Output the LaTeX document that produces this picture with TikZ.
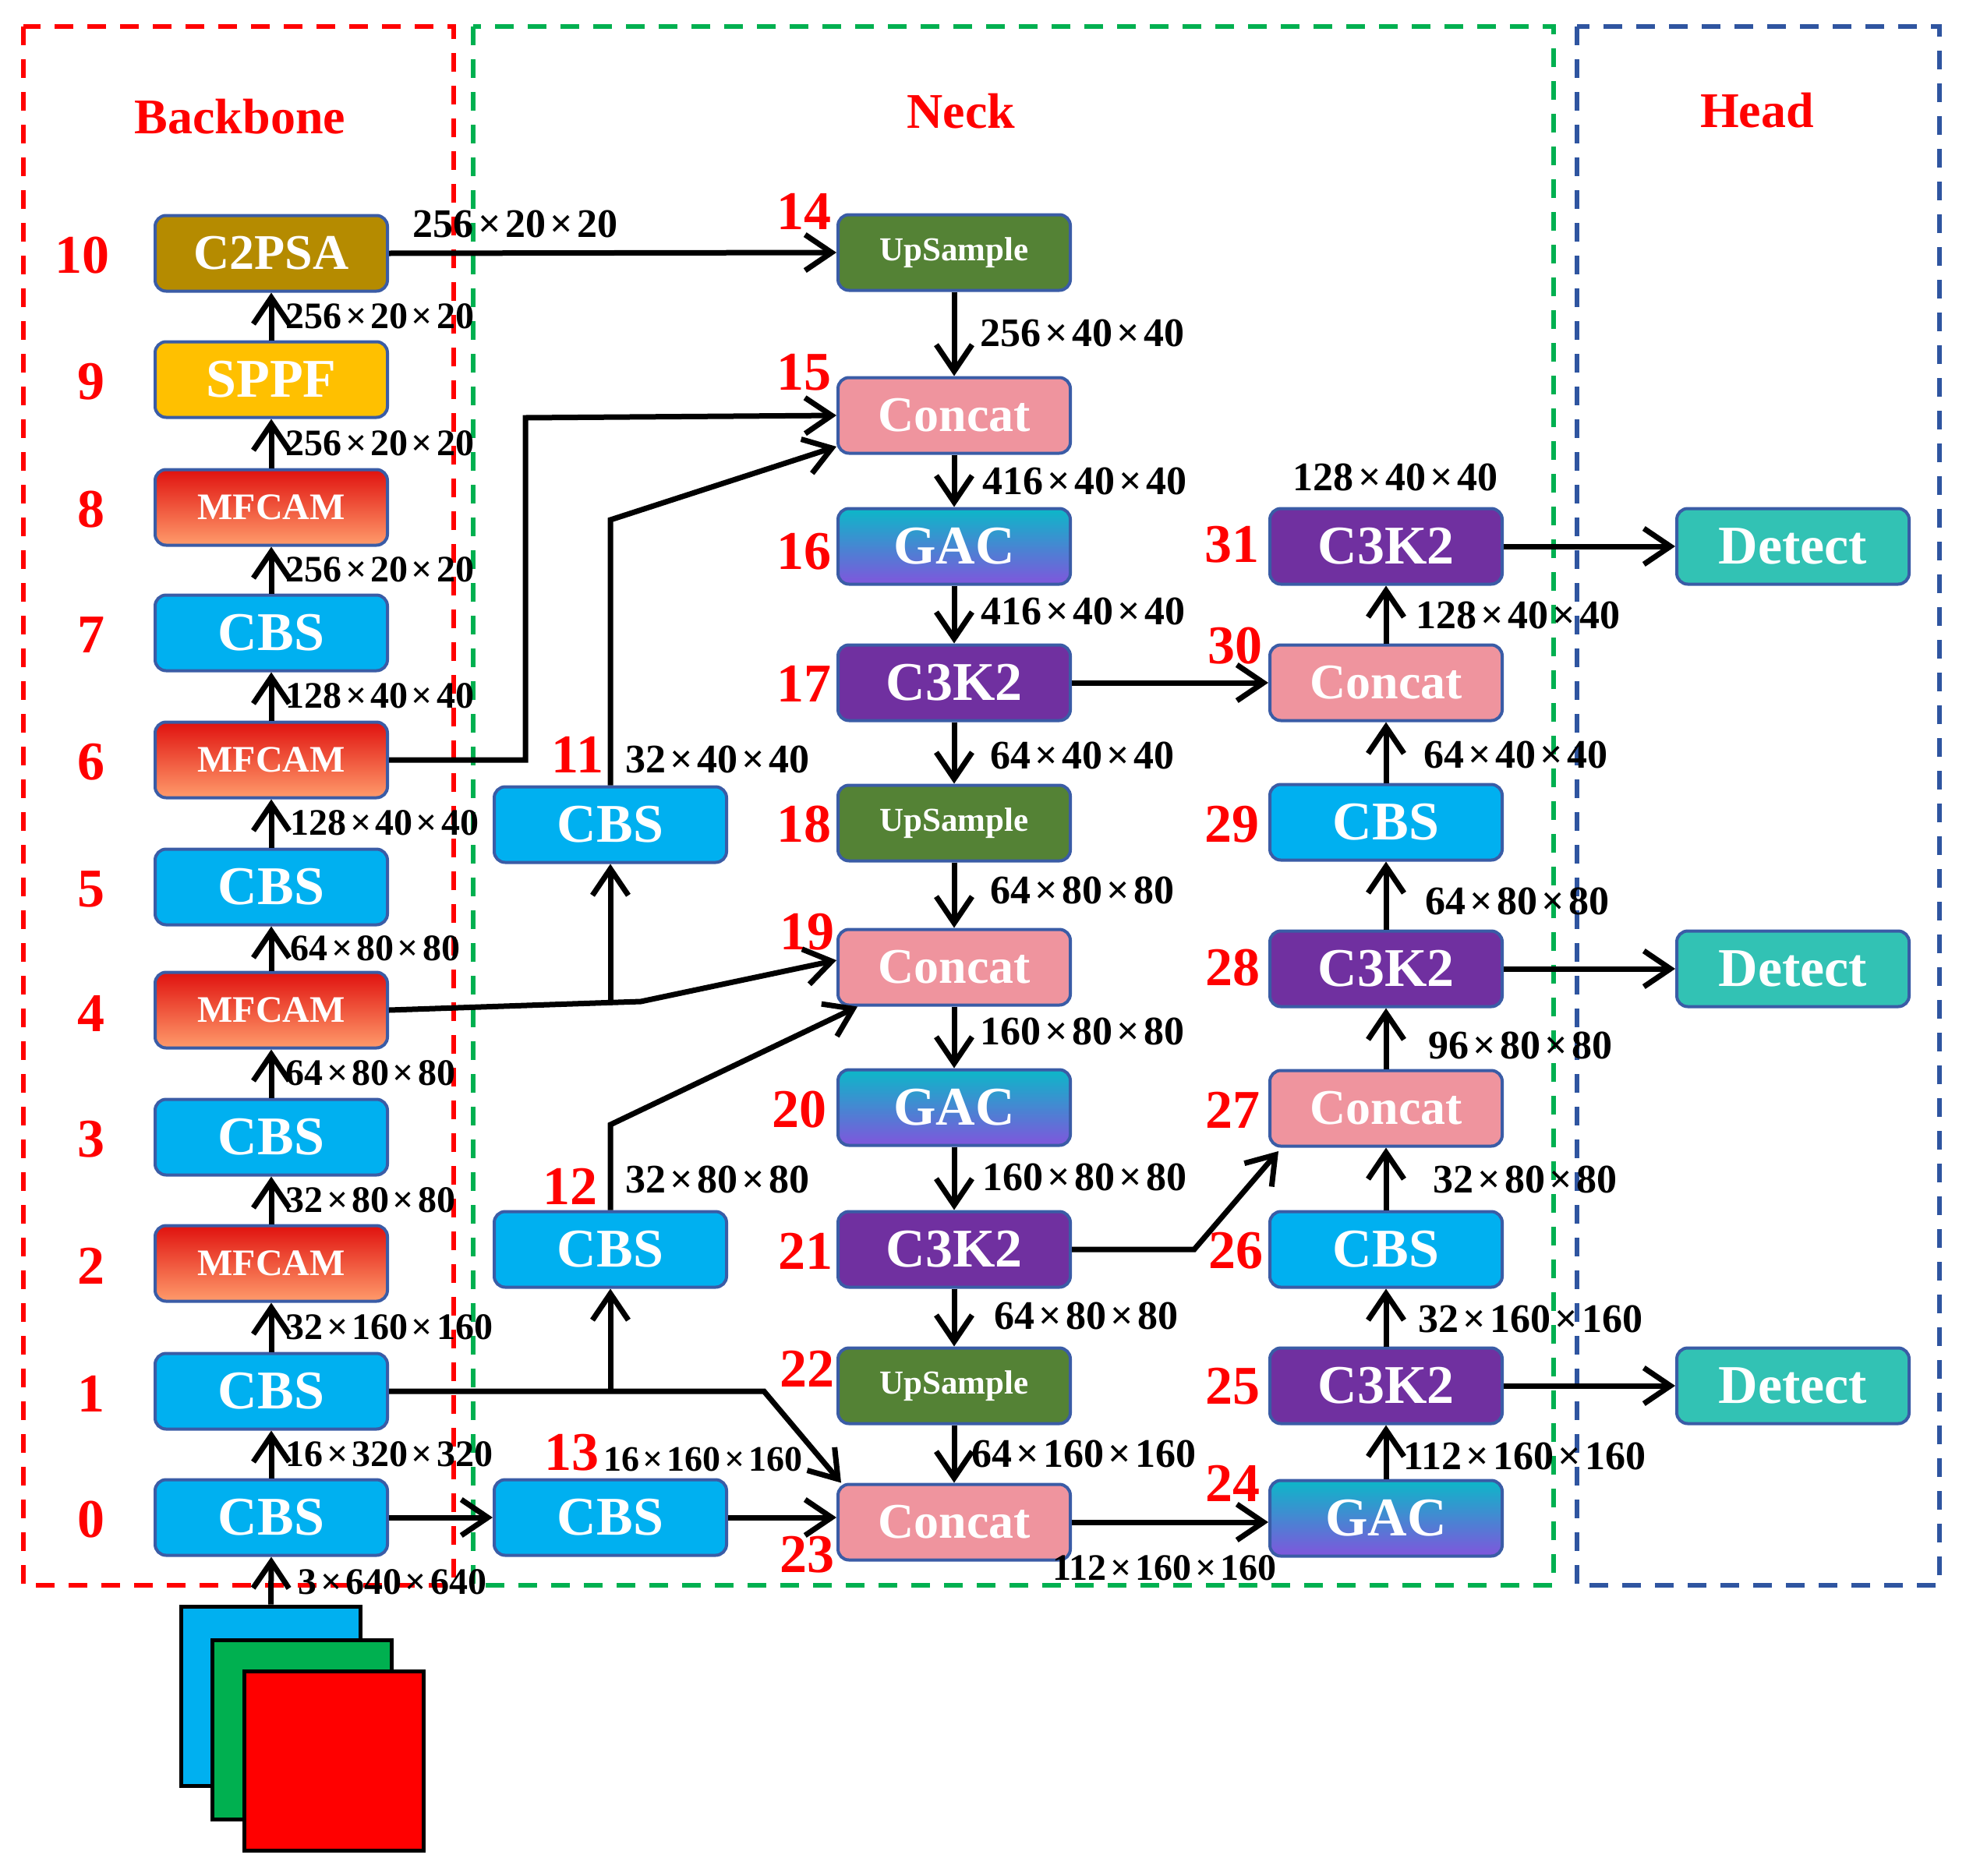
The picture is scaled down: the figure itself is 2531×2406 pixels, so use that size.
\documentclass[tikz,border=0pt]{standalone}
\usepackage{fontspec}
\setmainfont{Liberation Serif}
\usetikzlibrary{arrows.meta}
\definecolor{cbsc}{HTML}{00B0F0}
\definecolor{sppfc}{HTML}{FFC000}
\definecolor{c2psac}{HTML}{B58B00}
\definecolor{upsc}{HTML}{548235}
\definecolor{concatc}{HTML}{EF949E}
\definecolor{c3kc}{HTML}{7030A0}
\definecolor{detectc}{HTML}{32C2B4}
\definecolor{boxblue}{HTML}{3A5CA6}
\definecolor{mftop}{HTML}{E0120F}
\definecolor{mfbot}{HTML}{FF9B6B}
\definecolor{gactop}{HTML}{0CB8C8}
\definecolor{gacbot}{HTML}{8055DC}
\definecolor{regred}{HTML}{FF0000}
\definecolor{reggreen}{HTML}{00B050}
\definecolor{regblue}{HTML}{2F55A0}
\definecolor{sqgreen}{HTML}{00B050}
\newcommand\mul{\kern0.1em×\kern0.1em}
\begin{document}
\begin{tikzpicture}[x=1pt,y=-1pt,
  blk/.style={draw=boxblue, line width=4pt, rounded corners=14pt, minimum width=298pt, minimum height=97pt, inner sep=0pt, text=white, font=\fontsize{70}{70}\selectfont\bfseries},
  cbs/.style={blk, fill=cbsc},
  sppf/.style={blk, fill=sppfc},
  c2psa/.style={blk, fill=c2psac, font=\fontsize{64}{64}\selectfont\bfseries},
  mfcam/.style={blk, top color=mftop, bottom color=mfbot, font=\fontsize{48}{48}\selectfont\bfseries},
  gac/.style={blk, top color=gactop, bottom color=gacbot},
  ups/.style={blk, fill=upsc, font=\fontsize{43}{43}\selectfont\bfseries},
  concat/.style={blk, fill=concatc, font=\fontsize{64}{64}\selectfont\bfseries},
  c3k/.style={blk, fill=c3kc},
  detect/.style={blk, fill=detectc},
  num/.style={text=red, inner sep=0pt, font=\fontsize{70}{70}\selectfont\bfseries},
  ttl/.style={text=red, inner sep=0pt, font=\fontsize{64}{64}\selectfont\bfseries},
  dimlab/.style={inner sep=0pt, anchor=west, font=\fontsize{52}{52}\selectfont\bfseries},
  bdim/.style={dimlab, font=\fontsize{48}{48}\selectfont\bfseries},
  conn/.style={line width=7pt, -{Straight Barb[length=34pt,width=46pt,line width=7pt]}},
  region/.style={line width=6pt, dash pattern=on 24pt off 18pt},
  sq/.style={draw=black, line width=5pt, minimum width=230pt, minimum height=230pt, inner sep=0pt}
]
\useasboundingbox (0,0) rectangle (2531,2406);

% regions
\draw[region, regred] (30,34) rectangle (582,2034);
\draw[region, reggreen] (607,34) rectangle (1993,2034);
\draw[region, regblue] (2023,34) rectangle (2488,2034);
\node[ttl] (tb) at (308,150) {Backbone};
\node[ttl] (tn) at (1233,143) {Neck};
\node[ttl] (th) at (2254,142) {Head};

% input image
\node[sq, fill=cbsc] (sqb) at (347.5,2176) {};
\node[sq, fill=sqgreen] (sqg) at (387.5,2219) {};
\node[sq, fill=regred] (sqr) at (428,2259) {};

% backbone
\node[cbs] (b0) at (348,1947) {CBS};
\node[cbs] (b1) at (348,1785) {CBS};
\node[mfcam] (b2) at (348,1621) {MFCAM};
\node[cbs] (b3) at (348,1459) {CBS};
\node[mfcam] (b4) at (348,1296) {MFCAM};
\node[cbs] (b5) at (348,1138) {CBS};
\node[mfcam] (b6) at (348,975) {MFCAM};
\node[cbs] (b7) at (348,812) {CBS};
\node[mfcam] (b8) at (348,651) {MFCAM};
\node[sppf] (b9) at (348,487) {SPPF};
\node[c2psa] (b10) at (348,325) {C2PSA};

\node[num] (l0) at (117,1950) {0};
\node[num] (l1) at (117,1788) {1};
\node[num] (l2) at (117,1624) {2};
\node[num] (l3) at (117,1462) {3};
\node[num] (l4) at (117,1300) {4};
\node[num] (l5) at (117,1141) {5};
\node[num] (l6) at (117,978) {6};
\node[num] (l7) at (117,815) {7};
\node[num] (l8) at (117,654) {8};
\node[num] (l9) at (117,490) {9};
\node[num] (l10) at (105,328) {10};

% neck left column
\node[cbs] (n11) at (783,1058) {CBS};
\node[cbs] (n12) at (783,1603) {CBS};
\node[cbs] (n13) at (783,1947) {CBS};
\node[num] (l11) at (741,968) {11};
\node[num] (l12) at (731,1522) {12};
\node[num] (l13) at (733,1864) {13};

% neck main column
\node[ups] (n14) at (1224,324) {UpSample};
\node[concat] (n15) at (1224,533) {Concat};
\node[gac] (n16) at (1224,701) {GAC};
\node[c3k] (n17) at (1224,876) {C3K2};
\node[ups] (n18) at (1224,1056) {UpSample};
\node[concat] (n19) at (1224,1241) {Concat};
\node[gac] (n20) at (1224,1421) {GAC};
\node[c3k] (n21) at (1224,1603) {C3K2};
\node[ups] (n22) at (1224,1778) {UpSample};
\node[concat] (n23) at (1224,1953) {Concat};
\node[num] (l14) at (1031,271) {14};
\node[num] (l15) at (1031,478) {15};
\node[num] (l16) at (1031,708) {16};
\node[num] (l17) at (1031,877) {17};
\node[num] (l18) at (1031,1058) {18};
\node[num] (l19) at (1035,1196) {19};
\node[num] (l20) at (1025,1424) {20};
\node[num] (l21) at (1033,1605) {21};
\node[num] (l22) at (1035,1756) {22};
\node[num] (l23) at (1035,1995) {23};

% right column
\node[gac] (r24) at (1778,1948) {GAC};
\node[c3k] (r25) at (1778,1778) {C3K2};
\node[cbs] (r26) at (1778,1603) {CBS};
\node[concat] (r27) at (1778,1422) {Concat};
\node[c3k] (r28) at (1778,1243) {C3K2};
\node[cbs] (r29) at (1778,1055) {CBS};
\node[concat] (r30) at (1778,876) {Concat};
\node[c3k] (r31) at (1778,701) {C3K2};
\node[num] (l24) at (1581,1903) {24};
\node[num] (l25) at (1581,1779) {25};
\node[num] (l26) at (1585,1605) {26};
\node[num] (l27) at (1581,1424) {27};
\node[num] (l28) at (1581,1242) {28};
\node[num] (l29) at (1580,1058) {29};
\node[num] (l30) at (1584,829) {30};
\node[num] (l31) at (1580,699) {31};

% head
\node[detect] (d1) at (2300,701) {Detect};
\node[detect] (d2) at (2300,1243) {Detect};
\node[detect] (d3) at (2300,1778) {Detect};

% backbone connectors
\draw[conn] (sqb.north) -- (b0.south);
\draw[conn] (b0) -- (b1);
\draw[conn] (b1) -- (b2);
\draw[conn] (b2) -- (b3);
\draw[conn] (b3) -- (b4);
\draw[conn] (b4) -- (b5);
\draw[conn] (b5) -- (b6);
\draw[conn] (b6) -- (b7);
\draw[conn] (b7) -- (b8);
\draw[conn] (b8) -- (b9);
\draw[conn] (b9) -- (b10);

\node[bdim] (d01) at (366,1866) {16\mul 320\mul 320};
\node[bdim] (d12) at (366,1703) {32\mul 160\mul 160};
\node[bdim] (d23) at (366,1540) {32\mul 80\mul 80};
\node[bdim] (d34) at (366,1377) {64\mul 80\mul 80};
\node[bdim] (d45) at (372,1217) {64\mul 80\mul 80};
\node[bdim] (d56) at (372,1056) {128\mul 40\mul 40};
\node[bdim] (d67) at (366,893) {128\mul 40\mul 40};
\node[bdim] (d78) at (366,731) {256\mul 20\mul 20};
\node[bdim] (d89) at (366,569) {256\mul 20\mul 20};
\node[bdim] (d910) at (366,406) {256\mul 20\mul 20};
\node[bdim] (din) at (382,2030) {3\mul 640\mul 640};

% backbone to neck
\draw[conn] (b10.east) -- (n14.west);
\node[dimlab, anchor=center] (dtop) at (661,287) {256\mul 20\mul 20};

\draw[conn] (b6.east) -- (674,975) -- (674,536) -- (n15.west);
\draw[conn] (n11.north) -- (783,667) -- ([yshift=-40pt]n15.west);

\coordinate (j4) at (783,1286);
\draw[conn] (b4.east) -- (822,1285) -- ([yshift=9pt]n19.west);
\draw[conn] (j4) -- (n11.south);
\draw[conn] (n12.north) -- (783,1443) -- ([xshift=-124pt]n19.south);

\coordinate (j1) at (783,1785);
\draw[conn] (b1.east) -- (980,1785) -- ([xshift=6pt]n23.north west);
\draw[conn] (j1) -- (n12.south);

\draw[conn] (b0.east) -- (n13.west);
\draw[conn] (n13.east) -- (n13.east -| n23.west);

\node[dimlab] (d11) at (802,974) {32\mul 40\mul 40};
\node[dimlab] (d12b) at (802,1513) {32\mul 80\mul 80};
\node[dimlab, font=\fontsize{46}{46}\selectfont\bfseries] (d13) at (774,1872) {16\mul 160\mul 160};

% neck vertical
\draw[conn] (n14) -- (n15);
\draw[conn] (n15) -- (n16);
\draw[conn] (n16) -- (n17);
\draw[conn] (n17) -- (n18);
\draw[conn] (n18) -- (n19);
\draw[conn] (n19) -- (n20);
\draw[conn] (n20) -- (n21);
\draw[conn] (n21) -- (n22);
\draw[conn] (n22) -- (n23);

\node[dimlab] (e1) at (1257,427) {256\mul 40\mul 40};
\node[dimlab] (e2) at (1260,617) {416\mul 40\mul 40};
\node[dimlab] (e3) at (1258,784) {416\mul 40\mul 40};
\node[dimlab] (e4) at (1270,969) {64\mul 40\mul 40};
\node[dimlab] (e5) at (1270,1142) {64\mul 80\mul 80};
\node[dimlab] (e6) at (1257,1323) {160\mul 80\mul 80};
\node[dimlab] (e7) at (1260,1510) {160\mul 80\mul 80};
\node[dimlab] (e8) at (1275,1688) {64\mul 80\mul 80};
\node[dimlab] (e9) at (1246,1865) {64\mul 160\mul 160};

% neck to right column
\draw[conn] (n17.east) -- (r30.west);
\draw[conn] (n21.east) -- (1532,1603) -- (1640,1477);
\draw[conn] (n23.east) -- (n23.east -| r24.west);
\node[bdim] (e10) at (1350,2012) {112\mul 160\mul 160};

% right column vertical
\draw[conn] (r24) -- (r25);
\draw[conn] (r25) -- (r26);
\draw[conn] (r26) -- (r27);
\draw[conn] (r27) -- (r28);
\draw[conn] (r28) -- (r29);
\draw[conn] (r29) -- (r30);
\draw[conn] (r30) -- (r31);

\node[dimlab] (f1) at (1800,1868) {112\mul 160\mul 160};
\node[dimlab] (f2) at (1819,1692) {32\mul 160\mul 160};
\node[dimlab] (f3) at (1838,1513) {32\mul 80\mul 80};
\node[dimlab] (f4) at (1832,1341) {96\mul 80\mul 80};
\node[dimlab] (f5) at (1828,1156) {64\mul 80\mul 80};
\node[dimlab] (f6) at (1826,968) {64\mul 40\mul 40};
\node[dimlab] (f7) at (1816,789) {128\mul 40\mul 40};
\node[dimlab, anchor=center] (f8) at (1790,612) {128\mul 40\mul 40};

% head
\draw[conn] (r31.east) -- (d1.west);
\draw[conn] (r28.east) -- (d2.west);
\draw[conn] (r25.east) -- (d3.west);
\end{tikzpicture}
\end{document}
